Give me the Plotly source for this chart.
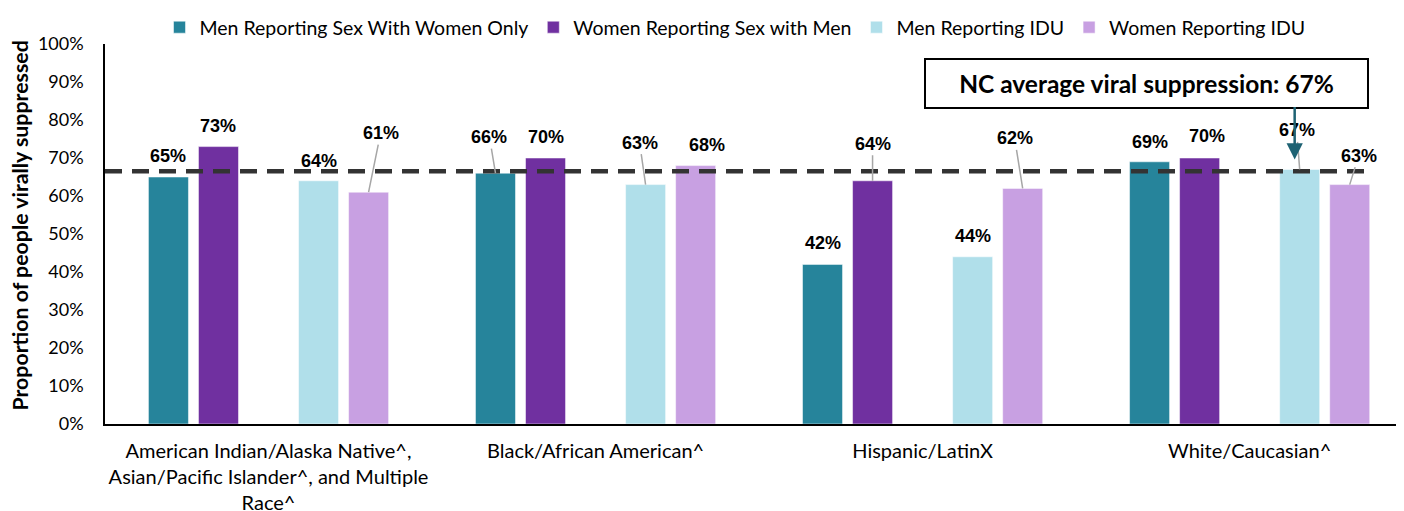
import plotly.graph_objects as go

categories = [
    "American Indian/Alaska Native^,<br>Asian/Pacific Islander^, and Multiple<br>Race^",
    "Black/African American^",
    "Hispanic/LatinX",
    "White/Caucasian^",
]
series_names = [
    "Men Reporting Sex With Women Only",
    "Women Reporting Sex with Men",
    "Men Reporting IDU",
    "Women Reporting IDU",
]
men_sex_women = [65, 66, 42, 69]
women_sex_men = [73, 70, 64, 70]
men_idu = [64, 63, 44, 67]
women_idu = [61, 68, 62, 63]
nc_average = 66.5
nc_label = "NC average viral suppression: 67%"
y_title = "Proportion of people virally suppressed"
y_ticks = [0, 10, 20, 30, 40, 50, 60, 70, 80, 90, 100]

colors = ["#26849B", "#7030A0", "#B0DFEA", "#C8A0E2"]
series_values = [men_sex_women, women_sex_men, men_idu, women_idu]
# slot index within the group (slot 2 is an empty spacer)
slots = [0, 1, 3, 4]
n_slots = 5
bargap = 0.235
slot_w = (1 - bargap) / n_slots

# label placement (pixel offsets of label centre from bar top), leader line flag
label_offsets = {
    (0, 0): (0, -21, False), (0, 1): (0, -21, False), (0, 2): (0, -20, False), (0, 3): (12, -59, True),
    (1, 0): (-6, -36, True), (1, 1): (0, -21, False), (1, 2): (-6, -42, True), (1, 3): (11, -21, False),
    (2, 0): (0, -21, False), (2, 1): (0, -37, True), (2, 2): (0, -21, False), (2, 3): (-8, -50, True),
    (3, 0): (0, -20, False), (3, 1): (7, -22, False), (3, 2): (-3, -39, True), (3, 3): (9, -29, True),
}

fig = go.Figure()
trace_order = [0, 1, None, 2, 3]
for t in trace_order:
    if t is None:
        fig.add_trace(go.Bar(x=categories, y=[None] * len(categories), showlegend=False,
                             hoverinfo="skip", marker_color="rgba(0,0,0,0)"))
    else:
        fig.add_trace(go.Bar(x=categories, y=series_values[t], name=series_names[t],
                             marker=dict(color=colors[t], line=dict(color="rgba(255,255,255,0.5)", width=1))))

annotations = []
for s, vals in enumerate(series_values):
    for g, v in enumerate(vals):
        xpos = g + (slots[s] - (n_slots - 1) / 2) * slot_w
        dx, dy, leader = label_offsets[(g, s)]
        common = dict(x=xpos, y=v, xref="x", yref="y", text=f"<b>{v}%</b>",
                      font=dict(family="Liberation Sans, Arial", size=18, color="#000000"))
        if leader:
            annotations.append(dict(**common, showarrow=True, ax=dx, ay=dy, arrowhead=0,
                                    arrowwidth=1.5, arrowcolor="#A6A6A6", standoff=0))
        else:
            annotations.append(dict(**common, showarrow=False, xshift=dx, yshift=-dy,
                                    yanchor="middle"))

# NC average box
annotations.append(dict(xref="paper", yref="paper", x=0.8014, y=0.895, text=f"<b>{nc_label}</b>",
                        showarrow=False, font=dict(family="Lato, Calibri", size=24.5, color="#000000"),
                        bordercolor="#000000", borderwidth=2, bgcolor="#FFFFFF",
                        width=437, height=43, borderpad=2, xanchor="center", yanchor="middle"))
# arrow to the 67% bar
arrow_x = 3 + (slots[2] - (n_slots - 1) / 2) * slot_w
annotations.append(dict(x=arrow_x, y=men_idu[3], xref="x", yref="y", text="", showarrow=True,
                        ax=0, ay=-64, arrowhead=2, arrowsize=1.3, arrowwidth=2.5,
                        arrowcolor="#1E6273", standoff=10, xshift=-5))
# y axis title
annotations.append(dict(xref="paper", yref="paper", x=-0.0655, y=0.522, text=f"<b>{y_title}</b>",
                        textangle=-90, showarrow=False, xanchor="center", yanchor="middle",
                        font=dict(family="Lato, Calibri", size=21.3, color="#000000")))

fig.add_shape(type="line", xref="paper", yref="y", x0=0, x1=0.972, y0=nc_average, y1=nc_average,
              line=dict(color="#333333", width=4.5, dash="17px,10px"))

fig.update_layout(
    width=1396, height=503,
    margin=dict(l=97, r=0, t=29, b=87),
    paper_bgcolor="white", plot_bgcolor="white",
    barmode="group", bargap=bargap, bargroupgap=0.2,
    font=dict(family="Lato, Calibri, sans-serif", size=18, color="#000000"),
    legend=dict(orientation="h", x=0.485, xanchor="center", y=1.044, yanchor="middle",
                font=dict(size=19.5), traceorder="normal"),
    annotations=annotations,
    xaxis=dict(range=[-0.5, 3.472], showline=True, linecolor="#000000", linewidth=2,
               ticks="", showgrid=False, tickfont=dict(size=20), ticklabelstandoff=8,
               automargin=False),
    yaxis=dict(range=[0, 100], tickvals=y_ticks, ticktext=[f"{t}%" for t in y_ticks],
               showline=True, linecolor="#000000", linewidth=1.5, showgrid=False, zeroline=False,
               ticks="", tickfont=dict(size=18), ticklabelstandoff=16, automargin=False),
)

fig.write_html("out.html")
